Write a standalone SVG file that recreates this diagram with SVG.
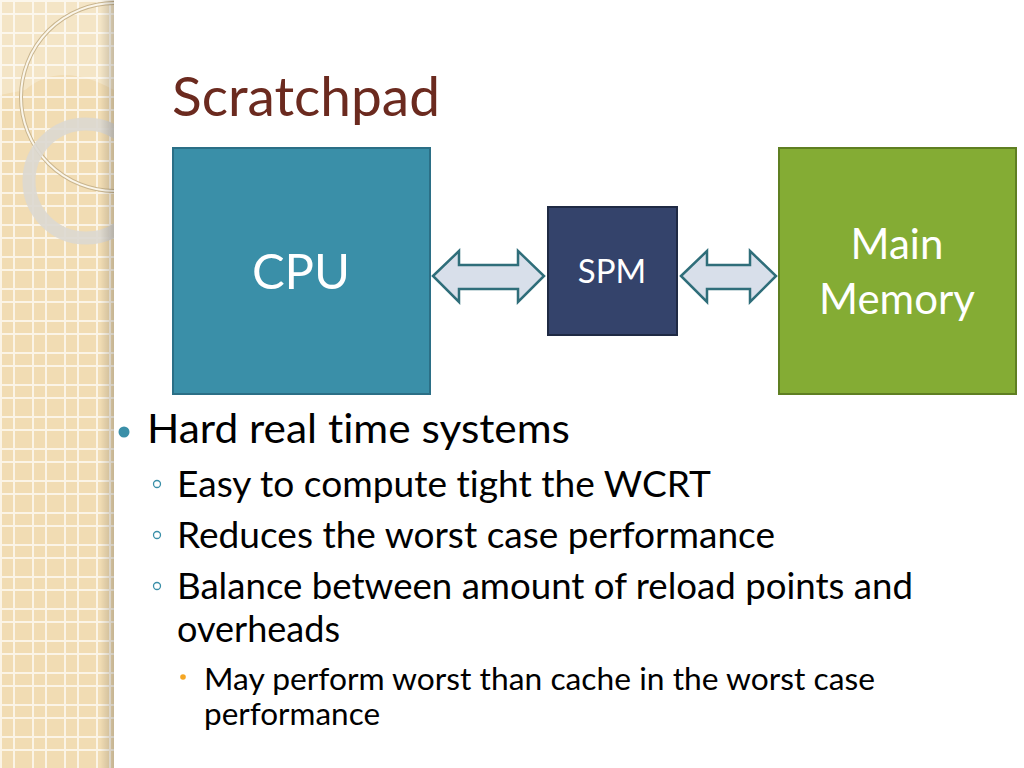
<svg xmlns="http://www.w3.org/2000/svg" width="1024" height="768" viewBox="0 0 1024 768">
<defs>
<style>
.t{font-family:Lato,"Open Sans","Liberation Sans",sans-serif;font-variant-ligatures:none;}
.b1{font-size:41px;fill:#000;}
.b2{font-size:36px;fill:#000;}
.b3{font-size:30px;fill:#000;}
.arrow{fill:#d8dfea;stroke:#2f6e7a;stroke-width:2.5;stroke-linejoin:miter;}
.ring{fill:none;stroke:#3a8fa8;stroke-width:1.3;}
</style>
<pattern id="grid" width="32" height="32" patternUnits="userSpaceOnUse">
<rect width="32" height="32" fill="#f1dcb3"/>
<rect x="0" y="0" width="2" height="32" fill="#fbf4e6"/>
<rect x="13" y="0" width="2" height="32" fill="#fbf4e6"/>
<rect x="0" y="0" width="32" height="2" fill="#fbf4e6"/>
<rect x="0" y="13" width="32" height="2" fill="#fbf4e6"/>
</pattern>
<linearGradient id="shadow" x1="0" y1="0" x2="1" y2="0">
<stop offset="0" stop-color="#000" stop-opacity="0"/>
<stop offset="1" stop-color="#000" stop-opacity="0.18"/>
</linearGradient>
<clipPath id="side"><rect x="0" y="0" width="114" height="768"/></clipPath>
</defs>
<rect width="1024" height="768" fill="#fff"/>
<g id="sidebar">
<rect x="0" y="0" width="114" height="768" fill="url(#grid)"/>
<g clip-path="url(#side)">
<path d="M0 0 H114 V90 Q60 60 25 90 L0 95 Z" fill="#fff" opacity="0.25"/>
<circle cx="115" cy="97" r="94" fill="none" stroke="#c9b58e" stroke-width="4"/>
<circle cx="115" cy="97" r="94" fill="none" stroke="#fbf6ea" stroke-width="2"/>
<circle cx="86" cy="181" r="57" fill="none" stroke="#dcd8d0" stroke-width="13" opacity="0.9"/>
</g>
<rect x="100" y="0" width="14" height="768" fill="url(#shadow)"/>
</g>
<text class="t" x="172" y="116" font-size="55" fill="#6b2a1f" textLength="268" lengthAdjust="spacingAndGlyphs">Scratchpad</text>
<g id="cpu">
<rect x="173" y="148" width="257" height="246" fill="#3a8fa8" stroke="#2b6f86" stroke-width="2"/>
<text class="t" x="301" y="289" font-size="49" fill="#fff" text-anchor="middle">CPU</text>
</g>
<g id="spm">
<rect x="548" y="207" width="129" height="128" fill="#34436b" stroke="#1f2a44" stroke-width="2"/>
<text class="t" x="612" y="283" font-size="33" fill="#fff" text-anchor="middle">SPM</text>
</g>
<g id="mainmem">
<rect x="779" y="148" width="237" height="246" fill="#84ac34" stroke="#5f7f22" stroke-width="2"/>
<text class="t" x="897" y="259" font-size="42" fill="#fff" text-anchor="middle">Main</text>
<text class="t" x="897" y="314" font-size="42" fill="#fff" text-anchor="middle">Memory</text>
</g>
<g id="connectors">
<path class="arrow" d="M433 276 L459 251 L459 265 L518 265 L518 251 L544 276 L518 302 L518 289 L459 289 L459 302 Z"/>
<path class="arrow" d="M681 276 L707 251 L707 265 L750 265 L750 251 L776 276 L750 302 L750 289 L707 289 L707 302 Z"/>
</g>
<g id="bullets">
<circle cx="124" cy="432" r="5.5" fill="#3a8fa8"/>
<text class="t b1" x="147" y="443" textLength="423" lengthAdjust="spacingAndGlyphs">Hard real time systems</text>
<circle class="ring" cx="157" cy="484" r="3.5"/>
<text class="t b2" x="177" y="497" textLength="534" lengthAdjust="spacingAndGlyphs">Easy to compute tight the WCRT</text>
<circle class="ring" cx="157" cy="535" r="3.5"/>
<text class="t b2" x="177" y="548" textLength="598" lengthAdjust="spacingAndGlyphs">Reduces the worst case performance</text>
<circle class="ring" cx="157" cy="586" r="3.5"/>
<text class="t b2" x="177" y="599" textLength="736" lengthAdjust="spacingAndGlyphs">Balance between amount of reload points and</text>
<text class="t b2" x="177" y="642" textLength="163" lengthAdjust="spacingAndGlyphs">overheads</text>
<circle cx="183" cy="677" r="2.8" fill="#f5a623"/>
<text class="t b3" x="204" y="690" textLength="671" lengthAdjust="spacingAndGlyphs">May perform worst than cache in the worst case</text>
<text class="t b3" x="204" y="725" textLength="176" lengthAdjust="spacingAndGlyphs">performance</text>
</g>
</svg>
